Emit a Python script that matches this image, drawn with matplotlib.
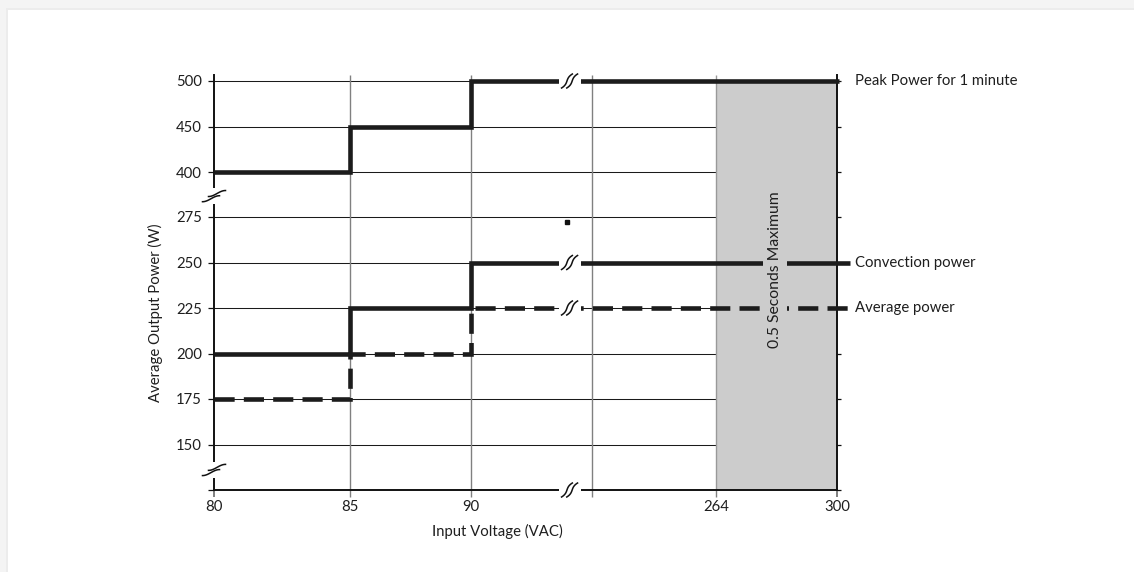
import numpy as np
import matplotlib
matplotlib.use("Agg")
import matplotlib.pyplot as plt
from matplotlib.lines import Line2D
from matplotlib.patches import Rectangle
from matplotlib.transforms import IdentityTransform

# ---------------- data ----------------
volt_steps = [80, 85, 90]            # step start voltages (VAC)
peak_power = [400, 450, 500]         # Peak Power for 1 minute (W)
convection_power = [200, 225, 250]   # Convection power (W)
average_power = [175, 200, 225]      # Average power (W)
x_end = 300                          # end of chart voltage
x_ticks = [80, 85, 90, 176, 264, 300]
x_tick_labels = ["80", "85", "90", "", "264", "300"]
y_ticks = [125, 150, 175, 200, 225, 250, 275, 400, 450, 500]
y_tick_labels = ["", "150", "175", "200", "225", "250", "275", "400", "450", "500"]
y_grid = [150, 175, 200, 225, 250, 275, 400, 450, 500]
shade_range = (264, 300)             # 0.5 Seconds Maximum region
series_labels = ["Peak Power for 1 minute", "Convection power", "Average power"]

# broken-axis scale definitions (value -> display position)
x_vals = [80, 85, 90, 264, 300]
x_pos = [0, 136, 257, 502, 623]
y_vals = [125, 275, 400, 500]
y_pos = [0, 273, 318, 409]
x_break = 160
y_breaks = [333, 136]


def piecewise(src, dst):
    src = np.asarray(src, float)
    dst = np.asarray(dst, float)

    def f(v):
        v = np.asarray(v, float)
        out = np.interp(v, src, dst)
        lo = v < src[0]
        hi = v > src[-1]
        s0 = (dst[1] - dst[0]) / (src[1] - src[0])
        s1 = (dst[-1] - dst[-2]) / (src[-1] - src[-2])
        out = np.where(lo, dst[0] + (v - src[0]) * s0, out)
        out = np.where(hi, dst[-1] + (v - src[-1]) * s1, out)
        return out
    return f


fx, ix = piecewise(x_vals, x_pos), piecewise(x_pos, x_vals)
fy, iy = piecewise(y_vals, y_pos), piecewise(y_pos, y_vals)

plt.rcParams["font.family"] = ["Lato", "DejaVu Sans"]
TXT = "#1e1e1e"
FS = 10.7

W, H = 1134, 572
fig = plt.figure(figsize=(W / 100, H / 100), dpi=100)
fig.patch.set_facecolor("#f4f4f4")
fig.patches.append(Rectangle((6 / W, 0), 1, (H - 8) / H, transform=fig.transFigure,
                             facecolor="#ececec", edgecolor="none", zorder=-20))
fig.patches.append(Rectangle((8 / W, 0), 1, (H - 10) / H, transform=fig.transFigure,
                             facecolor="white", edgecolor="none", zorder=-19))

ax = fig.add_axes([214 / W, (H - 490) / H, 623 / W, 415 / H])
ax.set_facecolor("none")
ax.set_xscale("function", functions=(fx, ix))
ax.set_yscale("function", functions=(fy, iy))
ax.set_xlim(80, 300)
ax.set_ylim(125, iy(415))

ax.spines["top"].set_visible(False)
for s in ["left", "bottom", "right"]:
    ax.spines[s].set_linewidth(1.4)
    ax.spines[s].set_color("#111111")
    ax.spines[s].set_zorder(2.5)

# ticks
ax.set_xticks(x_ticks)
ax.set_xticklabels(x_tick_labels)
ax.set_yticks(y_ticks)
ax.set_yticklabels(y_tick_labels)
ax.minorticks_off()
ax.tick_params(axis="x", length=5, width=1, color="#808080", pad=2, labelsize=FS, labelcolor=TXT)
ax.tick_params(axis="y", left=True, right=True, length=4.3, width=0.9, color="#111111",
               pad=4.5, labelsize=FS, labelcolor=TXT)
xt = ax.xaxis.get_major_ticks()
for i in (0, len(xt) - 1):
    xt[i].tick1line.set_color("#111111")
    xt[i].tick1line.set_markeredgewidth(1.4)
for t in ax.yaxis.get_major_ticks():
    t.tick2line.set_markersize(3)

# grid
ax.hlines(y_grid, 80, x_end, colors="#1a1a1a", linewidth=0.75, zorder=1)
ax.vlines(x_ticks[1:4], 0, 1, transform=ax.get_xaxis_transform(), colors="#808080",
          linewidth=1.0, zorder=1.2)
# shaded region
ax.fill_between(shade_range, 125, peak_power[-1], color="#cccccc", linewidth=0, zorder=1.5)
ax.vlines([shade_range[0]], 0, 1, transform=ax.get_xaxis_transform(), colors="#999999",
          linewidth=1.0, zorder=1.6)

# series
lw = 3.3
legend_end = 304
ax.plot(volt_steps + [x_end + 0.6], peak_power + [peak_power[-1]], drawstyle="steps-post",
        color="#1c1c1c", lw=lw, solid_joinstyle="miter", solid_capstyle="butt",
        zorder=3, clip_on=False)
ax.plot(volt_steps + [legend_end], convection_power + [convection_power[-1]],
        drawstyle="steps-post", color="#1c1c1c", lw=lw, solid_joinstyle="miter",
        solid_capstyle="butt", zorder=3, clip_on=False)
ax.plot(volt_steps + [legend_end], average_power + [average_power[-1]],
        drawstyle="steps-post", color="#1c1c1c", lw=lw, dashes=(4.4, 2.0),
        dash_capstyle="butt", dash_joinstyle="miter", zorder=3, clip_on=False)

# labels at right
lab_x = 305.4
for lab, val in zip(series_labels, [peak_power[-1], convection_power[-1], average_power[-1]]):
    ax.text(lab_x, val, lab, ha="left", va="center", fontsize=FS, color=TXT, clip_on=False)

ax.text(281.6, 246, "0.5 Seconds Maximum", rotation=90, ha="center", va="center",
        fontsize=11.3, color=TXT, zorder=4,
        bbox=dict(facecolor="#cccccc", edgecolor="none", pad=3.5))

# break symbols drawn in pixel space around their anchor points
t = np.linspace(-1, 1, 40)
ident = IdentityTransform()


def add_break(x, y, vertical_axis):
    px, py = ax.transData.transform((x, y))
    if vertical_axis:
        # white gap in spine, then two wavy strokes
        fig.patches.append(Rectangle((px - 4, py - 8), 8, 16, transform=ident,
                                     facecolor="white", edgecolor="none", zorder=5))
        for ox, oy in ((-3.0, -2.6), (3.0, 2.6)):
            xs = px + ox + 8.5 * t
            ys = py + oy + 3.0 * np.sin(np.pi * t / 2)
            fig.add_artist(Line2D(xs, ys, transform=ident, color="#111111", lw=1.1,
                                  zorder=6))
    else:
        fig.patches.append(Rectangle((px - 11, py - 3.2), 22, 6.4, transform=ident,
                                     facecolor="white", edgecolor="none", zorder=5))
        for ox in (-2.6, 2.6):
            ys = py + 7.0 * t
            xs = px + ox + 2.4 * t + 3.0 * t ** 3
            fig.add_artist(Line2D(xs, ys, transform=ident, color="#111111", lw=1.1,
                                  zorder=6))


for row in [125, peak_power[-1], convection_power[-1], average_power[-1]]:
    add_break(x_break, row, False)
for yb in y_breaks:
    add_break(80, yb, True)

# small stray mark in the original
ax.plot([158.2], [272.3], ls="none", marker="s", ms=2.3, color="#111111", zorder=3)

fig.text(155 / W, 1 - 313 / H, "Average Output Power (W)", rotation=90, ha="center",
         va="center", fontsize=FS, color=TXT)
fig.text(497 / W, 1 - 531 / H, "Input Voltage (VAC)", ha="center", va="center",
         fontsize=FS, color=TXT)

fig.savefig("out.png", dpi=100, facecolor=fig.get_facecolor())
